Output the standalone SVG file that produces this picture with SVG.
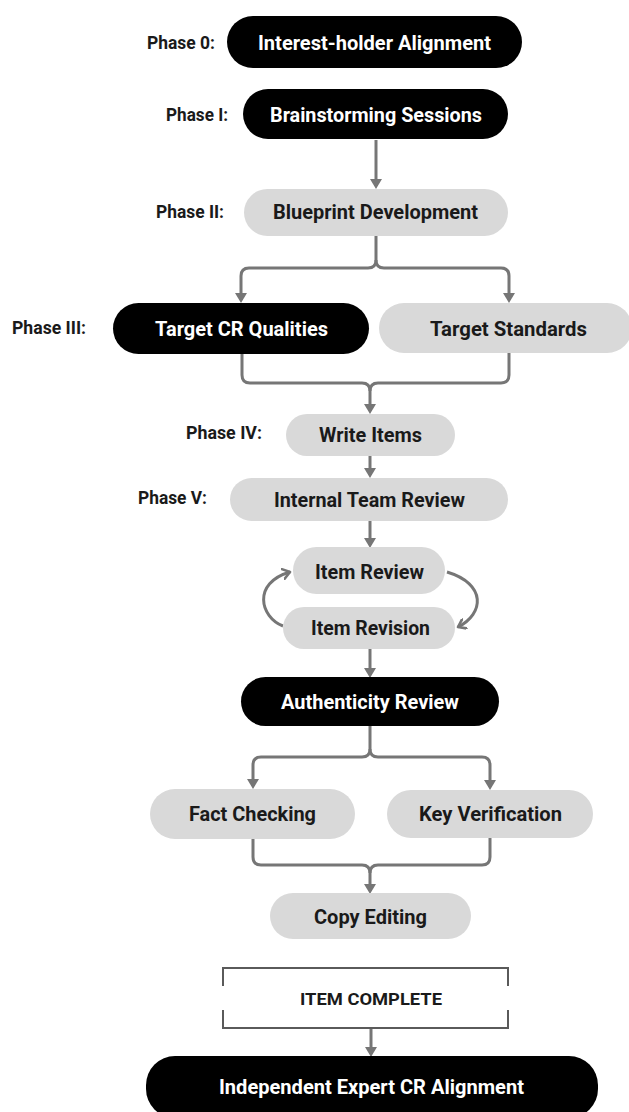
<svg xmlns="http://www.w3.org/2000/svg" width="629" height="1112" viewBox="0 0 629 1112">
<style>
.dark{fill:#000}
.light{fill:#d9d9d9}
.t{font-family:Roboto,"Liberation Sans",sans-serif;font-weight:700;text-anchor:middle}
.tw{fill:#fff;font-size:20px}
.tb{fill:#1a1a1a;font-size:20px}
.ph{font-family:Roboto,"Liberation Sans",sans-serif;font-weight:700;font-size:17.5px;fill:#1a1a1a;text-anchor:middle}
.c{fill:none;stroke:#767676;stroke-width:3;stroke-linejoin:round}
.br{fill:none;stroke:#5a5a5a;stroke-width:2}
</style>
<defs>
<marker id="ah" viewBox="0 0 10 12" refX="7" refY="6" markerWidth="10" markerHeight="12" orient="auto" markerUnits="userSpaceOnUse">
<path d="M0,0 L10,6 L0,12 z" fill="#767676"/>
</marker>
<marker id="ch" viewBox="0 0 10 12" refX="8" refY="6" markerWidth="10" markerHeight="12" orient="auto" markerUnits="userSpaceOnUse">
<path d="M1,1 L8,6 L1,11" fill="none" stroke="#767676" stroke-width="2.6" stroke-linecap="round" stroke-linejoin="round"/>
</marker>
</defs>

<g id="phase-labels">
<text class="ph" x="181" y="49" textLength="68" lengthAdjust="spacingAndGlyphs">Phase 0:</text>
<text class="ph" x="197" y="121" textLength="62" lengthAdjust="spacingAndGlyphs">Phase I:</text>
<text class="ph" x="190" y="218" textLength="68" lengthAdjust="spacingAndGlyphs">Phase II:</text>
<text class="ph" x="49" y="334" textLength="74" lengthAdjust="spacingAndGlyphs">Phase III:</text>
<text class="ph" x="224" y="439" textLength="76" lengthAdjust="spacingAndGlyphs">Phase IV:</text>
<text class="ph" x="172.5" y="504" textLength="69" lengthAdjust="spacingAndGlyphs">Phase V:</text>
</g>

<g id="connectors">
<path class="c" d="M376,140 V186" marker-end="url(#ah)"/>
<path class="c" d="M376,236 V260 Q376,268 368,268 H249 Q241,268 241,276 V300" marker-end="url(#ah)"/>
<path class="c" d="M376,260 Q376,268 384,268 H501 Q509,268 509,276 V300" marker-end="url(#ah)"/>
<path class="c" d="M242,354 V375 Q242,383 250,383 H362 Q370,383 370,391 V411" marker-end="url(#ah)"/>
<path class="c" d="M509,353 V375 Q509,383 501,383 H378 Q370,383 370,391"/>
<path class="c" d="M370,456 V475" marker-end="url(#ah)"/>
<path class="c" d="M370,521 V545" marker-end="url(#ah)"/>
<path class="c" d="M283,626 C260,617 252,583 290,572" marker-end="url(#ch)"/>
<path class="c" d="M447,572 C487,584 484,614 458,627" marker-end="url(#ch)"/>
<path class="c" d="M370,649 V675" marker-end="url(#ah)"/>
<path class="c" d="M370,726 V749 Q370,757 362,757 H261 Q253,757 253,765 V786" marker-end="url(#ah)"/>
<path class="c" d="M370,749 Q370,757 378,757 H482 Q490,757 490,765 V787" marker-end="url(#ah)"/>
<path class="c" d="M253,839 V857 Q253,865 261,865 H362 Q370,865 370,873 V891" marker-end="url(#ah)"/>
<path class="c" d="M490,838 V857 Q490,865 482,865 H378 Q370,865 370,873"/>
<path class="c" d="M371,1028 V1054" marker-end="url(#ah)"/>
</g>

<g id="n-interest-holder">
<rect class="dark" x="227" y="16" width="295" height="52" rx="26"/>
<text class="t tw" x="374.5" y="50" font-size="20.5" textLength="233" lengthAdjust="spacingAndGlyphs">Interest-holder Alignment</text>
</g>
<g id="n-brainstorming">
<rect class="dark" x="243" y="89" width="265" height="50" rx="25"/>
<text class="t tw" x="376" y="122" textLength="212" lengthAdjust="spacingAndGlyphs">Brainstorming Sessions</text>
</g>
<g id="n-blueprint">
<rect class="light" x="244" y="189" width="264" height="47" rx="23.5"/>
<text class="t tb" x="375.5" y="219" textLength="205" lengthAdjust="spacingAndGlyphs">Blueprint Development</text>
</g>
<g id="n-target-cr">
<rect class="dark" x="113" y="303" width="256" height="51" rx="25.5"/>
<text class="t tw" x="241.5" y="336" textLength="173" lengthAdjust="spacingAndGlyphs">Target CR Qualities</text>
</g>
<g id="n-target-standards">
<rect class="light" x="379" y="303" width="253" height="50" rx="25"/>
<text class="t tb" x="508.5" y="336" textLength="157" lengthAdjust="spacingAndGlyphs">Target Standards</text>
</g>
<g id="n-write-items">
<rect class="light" x="286" y="414" width="169" height="42" rx="21"/>
<text class="t tb" x="370.5" y="442" textLength="103" lengthAdjust="spacingAndGlyphs">Write Items</text>
</g>
<g id="n-internal-review">
<rect class="light" x="230" y="478" width="278" height="43" rx="21.5"/>
<text class="t tb" x="369.5" y="507" textLength="191" lengthAdjust="spacingAndGlyphs">Internal Team Review</text>
</g>
<g id="n-item-review">
<rect class="light" x="293" y="547" width="152" height="47" rx="23.5"/>
<text class="t tb" x="369.5" y="579" textLength="109" lengthAdjust="spacingAndGlyphs">Item Review</text>
</g>
<g id="n-item-revision">
<rect class="light" x="283" y="607" width="172" height="42" rx="21"/>
<text class="t tb" x="370.5" y="635" textLength="119" lengthAdjust="spacingAndGlyphs">Item Revision</text>
</g>
<g id="n-authenticity">
<rect class="dark" x="241" y="677" width="258" height="49" rx="24.5"/>
<text class="t tw" x="370" y="709" textLength="178" lengthAdjust="spacingAndGlyphs">Authenticity Review</text>
</g>
<g id="n-fact-checking">
<rect class="light" x="150" y="789" width="205" height="50" rx="25"/>
<text class="t tb" x="252.5" y="821" textLength="127" lengthAdjust="spacingAndGlyphs">Fact Checking</text>
</g>
<g id="n-key-verification">
<rect class="light" x="387" y="790" width="206" height="48" rx="24"/>
<text class="t tb" x="490.5" y="821" textLength="143" lengthAdjust="spacingAndGlyphs">Key Verification</text>
</g>
<g id="n-copy-editing">
<rect class="light" x="270" y="893" width="201" height="46" rx="23"/>
<text class="t tb" x="370.5" y="924" textLength="113" lengthAdjust="spacingAndGlyphs">Copy Editing</text>
</g>
<g id="n-item-complete">
<path class="br" d="M223,986 V968 H508 V986"/>
<path class="br" d="M223,1010 V1028 H508 V1010"/>
<text class="t" x="371" y="1004.5" font-size="16" fill="#1a1a1a" textLength="142" lengthAdjust="spacingAndGlyphs">ITEM COMPLETE</text>
</g>
<g id="n-independent-expert">
<rect class="dark" x="146" y="1056" width="452" height="62" rx="29"/>
<text class="t tw" x="371.5" y="1094" font-size="21" textLength="305" lengthAdjust="spacingAndGlyphs">Independent Expert CR Alignment</text>
</g>
</svg>
